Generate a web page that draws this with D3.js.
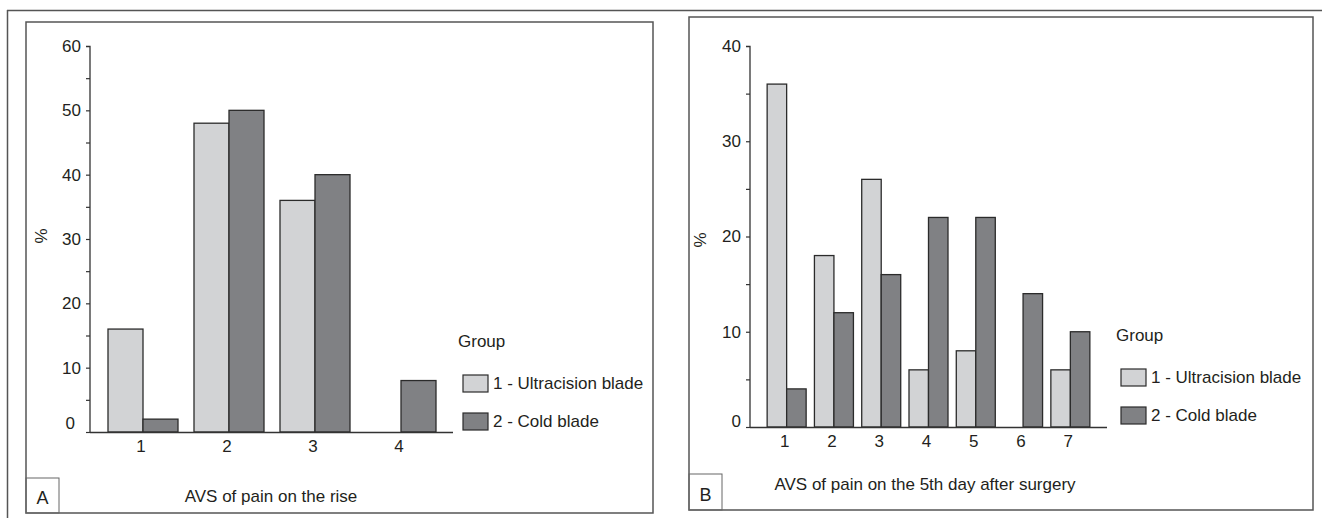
<!DOCTYPE html>
<html>
<head>
<meta charset="utf-8">
<script src="https://cdn.jsdelivr.net/npm/d3@7/dist/d3.min.js"></script>
<style>
html,body{margin:0;padding:0;background:#fff;}
svg text{font-family:"Liberation Sans",Arial,sans-serif;fill:#231f20;}
</style>
</head>
<body>
<svg id="c" width="1322" height="518"></svg>
<script>
// ---- Data ----
const seriesNames = ["1 - Ultracision blade", "2 - Cold blade"];
const catsA = ["1", "2", "3", "4"];
const ultraA = [16, 48, 36, 0];
const coldA = [2, 50, 40, 8];
const ticksA = [0, 10, 20, 30, 40, 50, 60];
const catsB = ["1", "2", "3", "4", "5", "6", "7"];
const ultraB = [36, 18, 26, 6, 8, 0, 6];
const coldB = [4, 12, 16, 22, 22, 14, 10];
const ticksB = [0, 10, 20, 30, 40];
const titleA = "AVS of pain on the rise";
const titleB = "AVS of pain on the 5th day after surgery";

const colors = ["#d2d3d5", "#808184"];
const svg = d3.select("#c");
const FS = 17;

// outer frame lines
svg.append("line").attr("x1",7).attr("y1",10.5).attr("x2",1322).attr("y2",10.5).attr("stroke","#555").attr("stroke-width",1.5);
svg.append("line").attr("x1",7.5).attr("y1",10).attr("x2",7.5).attr("y2",518).attr("stroke","#555").attr("stroke-width",1.5);

function panel(cfg){
  const g = svg.append("g");
  // box
  g.append("rect").attr("x",cfg.box[0]).attr("y",cfg.box[1]).attr("width",cfg.box[2]-cfg.box[0]).attr("height",cfg.box[3]-cfg.box[1])
    .attr("fill","none").attr("stroke","#555").attr("stroke-width",1.5);
  // label box
  g.append("rect").attr("x",cfg.box[0]).attr("y",cfg.lbl[1]).attr("width",cfg.lbl[0]-cfg.box[0]).attr("height",cfg.box[3]-cfg.lbl[1])
    .attr("fill","none").attr("stroke","#666").attr("stroke-width",1);
  g.append("text").attr("x",(cfg.box[0]+cfg.lbl[0])/2).attr("y",cfg.box[3]-9).attr("text-anchor","middle")
    .attr("font-size",FS+1).text(cfg.letter);

  const y = d3.scaleLinear().domain([0, cfg.ymax]).range([cfg.y0, cfg.ytop]);
  const x = d3.scaleBand().domain(cfg.cats).range(cfg.xr).paddingInner(0).paddingOuter(0);
  const bw = cfg.bw;

  // y axis
  const yAxis = d3.axisLeft(y).tickValues(d3.range(0, cfg.ymax+0.1, 5)).tickSize(4).tickPadding(5)
    .tickFormat(d => cfg.ticks.includes(d) ? d : "");
  const ya = g.append("g").attr("transform",`translate(${cfg.ax},0)`).call(yAxis);
  ya.select(".domain").attr("stroke","#333").attr("stroke-width",1.3).attr("d",`M-4,${y(cfg.ymax)+0.5}H0V${cfg.y0}`);
  ya.selectAll(".tick line").attr("stroke","#333").attr("stroke-width",1.2);
  ya.selectAll(".tick text").attr("font-size",FS).attr("font-family",'"Liberation Sans",Arial,sans-serif').attr("fill","#231f20");
  ya.selectAll(".tick").filter(d=>d===0).select("text").attr("dy",cfg.zeroDy).attr("x",cfg.zeroX);
  ya.selectAll(".tick").filter(d=>d===cfg.ymax).select("line").remove();

  // bars
  const data = [];
  cfg.cats.forEach((c,i)=>{
    [cfg.s1[i], cfg.s2[i]].forEach((v,k)=>{ data.push({c, k, v}); });
  });
  g.selectAll("rect.bar").data(data.filter(d=>d.v>0)).join("rect").attr("class","bar")
    .attr("x", d => x(d.c) + x.bandwidth()/2 + (d.k===0 ? -bw : 0))
    .attr("y", d => y(d.v))
    .attr("width", bw)
    .attr("height", d => y(0) - y(d.v))
    .attr("fill", d => colors[d.k])
    .attr("stroke", "#2b2b2b").attr("stroke-width",1.3);

  // x axis
  const xAxis = d3.axisBottom(x).tickSize(0).tickPadding(8);
  const xa = g.append("g").attr("transform",`translate(0,${cfg.y0})`).call(xAxis);
  xa.select(".domain").attr("stroke","#333").attr("stroke-width",1.3).attr("d",`M${cfg.ax},0.5H${cfg.xend}`);
  xa.selectAll(".tick text").attr("font-size",FS).attr("font-family",'"Liberation Sans",Arial,sans-serif').attr("fill","#231f20").attr("dx",-2);

  // axis titles
  g.append("text").attr("x",cfg.titleX).attr("y",cfg.titleY).attr("text-anchor","middle").attr("font-size",FS).text(cfg.title);
  g.append("text").attr("transform",`translate(${cfg.pctX},${cfg.pctY}) rotate(-90)`).attr("text-anchor","middle").attr("font-size",FS).text("%");

  // legend
  const L = g.append("g").attr("transform",`translate(${cfg.leg[0]},${cfg.leg[1]})`);
  L.append("text").attr("x",-5).attr("y",0).attr("font-size",FS).text("Group");
  seriesNames.forEach((s,i)=>{
    const yy = 28 + i*38;
    L.append("rect").attr("x",0).attr("y",yy).attr("width",25).attr("height",17)
      .attr("fill",colors[i]).attr("stroke","#2b2b2b").attr("stroke-width",1.2);
    L.append("text").attr("x",30).attr("y",yy+14).attr("font-size",FS).text(s);
  });
}

panel({box:[26,22,653,513], lbl:[59,478], letter:"A",
  cats:catsA, s1:ultraA, s2:coldA, ticks:ticksA, ymax:60,
  ax:90, y0:432, ytop:46, xr:[100,444], xend:453, bw:35,
  zeroDy:"-0.2em", zeroX:-15,
  title:titleA, titleX:271, titleY:502, pctX:47, pctY:236,
  leg:[463,347]});

panel({box:[689,17,1313,510], lbl:[722,474], letter:"B",
  cats:catsB, s1:ultraB, s2:coldB, ticks:ticksB, ymax:40,
  ax:750, y0:427, ytop:46, xr:[763,1094], xend:1107, bw:19.5,
  zeroDy:"-0.05em", zeroX:-9,
  title:titleB, titleX:925, titleY:490, pctX:706, pctY:240,
  leg:[1121,341]});
</script>
</body>
</html>
